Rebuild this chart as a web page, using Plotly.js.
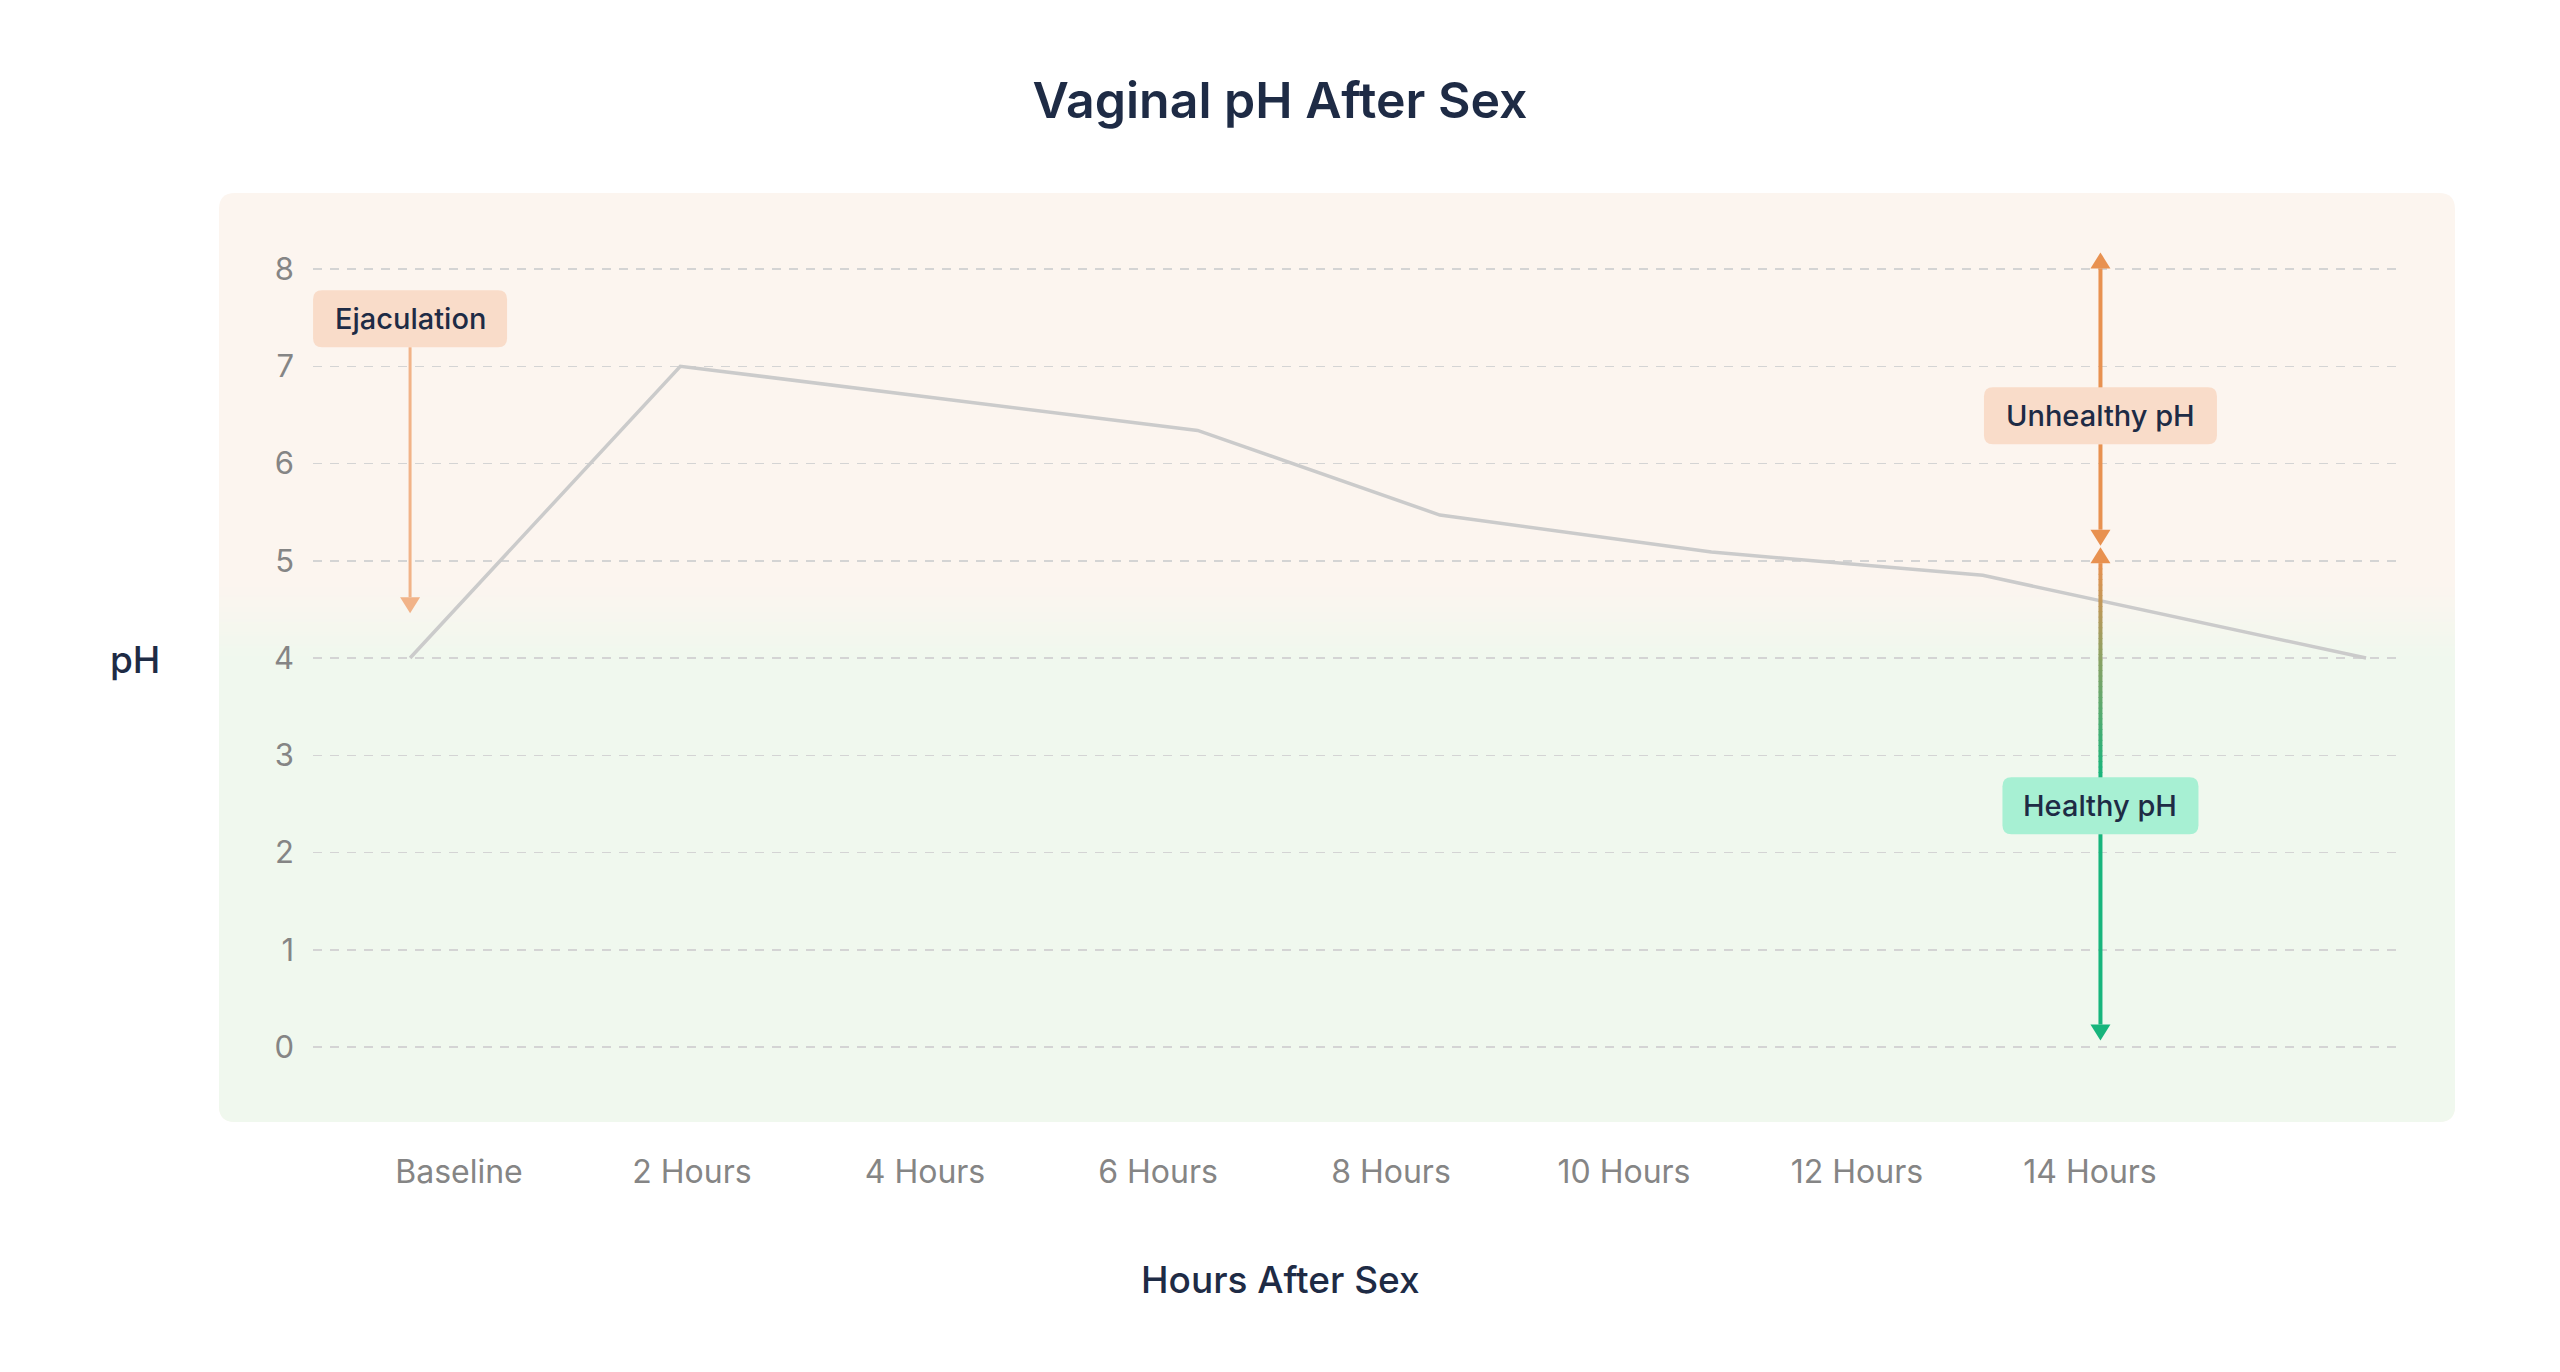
<!DOCTYPE html>
<html><head><meta charset="utf-8">
<script src="https://cdn.plot.ly/plotly-3.0.1.min.js"></script>
<style>html,body{margin:0;padding:0;background:#fff;}#chart{width:2560px;height:1372px;}</style>
</head><body><div id="chart"></div>
<script>
// ---------------- data ----------------
const tickLabels = ['Baseline','2 Hours','4 Hours','6 Hours','8 Hours','10 Hours','12 Hours','14 Hours'];
const tickHours  = [0, 2, 4, 6, 8, 10, 12, 14];
const pointHours = [-0.42, 1.9, 6.34, 8.42, 10.75, 13.08, 16.37];
const pointPH    = [4.0, 7.0, 6.34, 5.47, 5.09, 4.85, 4.0];
const phTicks    = [0, 1, 2, 3, 4, 5, 6, 7, 8];
const calloutText = ['Ejaculation', 'Unhealthy pH', 'Healthy pH'];
const titleText = 'Vaginal pH After Sex';
const xTitleText = 'Hours After Sex';
const yTitleText = 'pH';

// ---------------- geometry / style ----------------
const W = 2560, H = 1372;
const L = 313, R = 2398, T = 193, B = 1122;
const xRange = [-1.2532, 16.644];
const yRange = [-0.771, 8.7815];
const kx = (R - L) / (xRange[1] - xRange[0]);
const ky = (B - T) / (yRange[1] - yRange[0]);
const dx = p => p / kx, dy = p => p / ky;
const pxX = p => (p - L) / (R - L), pxY = p => (B - p) / (B - T);

const NAVY = '#1E2B45';
const ORANGE = [232, 145, 80];
const GREEN = [23, 181, 124];
const EJAC = '#F1B388';
const PEACH = '#F9DCC9';
const MINT = '#A7F0D3';
const BG_TOP = [252, 245, 239];
const BG_BOT = [240, 248, 238];
const FONT = 'Inter, "Open Sans", sans-serif';

const rgb = c => `rgb(${c.map(v => Math.round(v)).join(',')})`;
const mix = (a, b, t) => a.map((v, i) => v + (b[i] - v) * t);

function rrect(x0, y0, x1, y1, rx, ry) {
  return `M${x0+rx},${y0} L${x1-rx},${y0} Q${x1},${y0} ${x1},${y0+ry} L${x1},${y1-ry} Q${x1},${y1} ${x1-rx},${y1} L${x0+rx},${y1} Q${x0},${y1} ${x0},${y1-ry} L${x0},${y0+ry} Q${x0},${y0} ${x0+rx},${y0} Z`;
}

const shapes = [];
// panel background
const px0 = pxX(219), px1 = pxX(2455);
const prx = 16 / (R - L), pry = 16 / (B - T);
shapes.push({type:'path', xref:'paper', yref:'paper', layer:'below', line:{width:0}, fillcolor:rgb(BG_TOP),
  path: rrect(px0, 0, px1, 1, prx, pry)});
const y4 = (4 - yRange[0]) / (yRange[1] - yRange[0]);
shapes.push({type:'path', xref:'paper', yref:'paper', layer:'below', line:{width:0}, fillcolor:rgb(BG_BOT),
  path:`M${px0},${y4} L${px1},${y4} L${px1},${pry} Q${px1},0 ${px1-prx},0 L${px0+prx},0 Q${px0},0 ${px0},${pry} Z`});
// transition band
const NB = 30, bandLo = 4.0, bandHi = 4.75;
for (let i = 0; i < NB; i++) {
  const a = bandLo + (bandHi - bandLo) * i / NB;
  const b = bandLo + (bandHi - bandLo) * (i + 1) / NB;
  shapes.push({type:'rect', xref:'paper', yref:'y', layer:'below', line:{width:0},
    x0:px0, x1:px1, y0:a, y1:b + 0.005, fillcolor: rgb(mix(BG_BOT, BG_TOP, (i + 0.5) / NB))});
}

// arrows
function head(x, tipY, dir, color) { // dir +1 up, -1 down
  const hl = dy(16), hw = dx(10);
  const by = tipY - dir * hl;
  shapes.push({type:'path', xref:'x', yref:'y', layer:'above', line:{width:0}, fillcolor:color,
    path:`M${x},${tipY} L${x-hw},${by} L${x+hw},${by} Z`});
  return by;
}
function shaft(x, y0, y1, color, w) {
  shapes.push({type:'line', xref:'x', yref:'y', layer:'above', x0:x, x1:x, y0:y0, y1:y1, line:{color:color, width:w}});
}
function box(cx, cy, wpx, hpx, color) {
  const hw = dx(wpx / 2), hh = dy(hpx / 2);
  shapes.push({type:'path', xref:'x', yref:'y', layer:'above', line:{width:0}, fillcolor:color,
    path: rrect(cx - hw, cy - hh, cx + hw, cy + hh, dx(9), dy(9))});
  return [cy - hh, cy + hh];
}

// Ejaculation callout
const ejX = pointHours[0], ejBoxY = 7.488;
const ejBox = box(ejX, ejBoxY, 194, 57, PEACH);
const ejBase = head(ejX, 4.46, -1, EJAC);
shaft(ejX, ejBox[0], ejBase, EJAC, 3);

// range arrows
const rX = 14.09;
const unBoxY = 6.49, hBoxY = 2.48;
const orangeC = rgb(ORANGE), greenC = rgb(GREEN);
const unBox = box(rX, unBoxY, 233, 57, PEACH);
const topBase = head(rX, 8.17, 1, orangeC);
shaft(rX, unBox[1], topBase, orangeC, 4);
const midBase = head(rX, 5.155, -1, orangeC);
shaft(rX, midBase, unBox[0], orangeC, 4);
const hBox = box(rX, hBoxY, 196, 57, MINT);
const upBase = head(rX, 5.14, 1, orangeC);
const NG = 40;
for (let i = 0; i < NG; i++) {
  const a = upBase + (hBox[1] - upBase) * i / NG;
  const b = upBase + (hBox[1] - upBase) * (i + 1.15) / NG;
  shaft(rX, a, Math.max(b, hBox[1]), rgb(mix(ORANGE, GREEN, (i + 0.5) / NG)), 4);
}
const botBase = head(rX, 0.067, -1, greenC);
shaft(rX, hBox[0], botBase, greenC, 4);

const CALLOUT_FONT = {family:FONT, size:29, color:NAVY, weight:500};
const annotations = [
  {x:ejX, y:ejBoxY, xref:'x', yref:'y', text:calloutText[0], showarrow:false, font:CALLOUT_FONT},
  {x:rX, y:unBoxY, xref:'x', yref:'y', text:calloutText[1], showarrow:false, font:CALLOUT_FONT},
  {x:rX, y:hBoxY, xref:'x', yref:'y', text:calloutText[2], showarrow:false, font:CALLOUT_FONT},
  {x:pxX(134.5), y:pxY(659), xref:'paper', yref:'paper', text:yTitleText, showarrow:false, xanchor:'center', yanchor:'middle',
   font:{family:FONT, size:37, color:NAVY, weight:500}},
  {x:pxX(1280), y:pxY(1279), xref:'paper', yref:'paper', text:xTitleText, showarrow:false, xanchor:'center', yanchor:'middle',
   font:{family:FONT, size:37, color:NAVY, weight:500}}
];

const trace = {
  x: pointHours, y: pointPH, type:'scatter', mode:'lines',
  line:{color:'#CBCBCB', width:3.5}, hoverinfo:'skip', showlegend:false
};

const layout = {
  width: W, height: H,
  margin: {l: L, r: W - R, t: T, b: H - B, pad: 0},
  paper_bgcolor: '#FFFFFF', plot_bgcolor: 'rgba(0,0,0,0)',
  title: {text: titleText, x: 0.5, xref: 'container', xanchor: 'center', y: 1 - 100 / H, yref: 'container', yanchor: 'middle',
    font: {family: FONT, size: 50, color: NAVY, weight: 600}},
  xaxis: {range: xRange, tickvals: tickHours, ticktext: tickLabels, showgrid: false, zeroline: false, showline: false,
    ticks: '', ticklabelstandoff: 28, tickfont: {family: FONT, size: 32, color: '#858585'}, fixedrange: true},
  yaxis: {range: yRange, tickvals: phTicks, ticktext: phTicks.map(String), showgrid: true, gridcolor: '#D4D4D4',
    gridwidth: 1.5, griddash: '9px,8px', zeroline: false, showline: false, ticks: '', ticklabelstandoff: 18,
    tickfont: {family: FONT, size: 31, color: '#858585'}, fixedrange: true},
  shapes: shapes,
  annotations: annotations,
  showlegend: false
};

Plotly.newPlot('chart', [trace], layout, {displayModeBar: false, staticPlot: true});
</script>
</body></html>
